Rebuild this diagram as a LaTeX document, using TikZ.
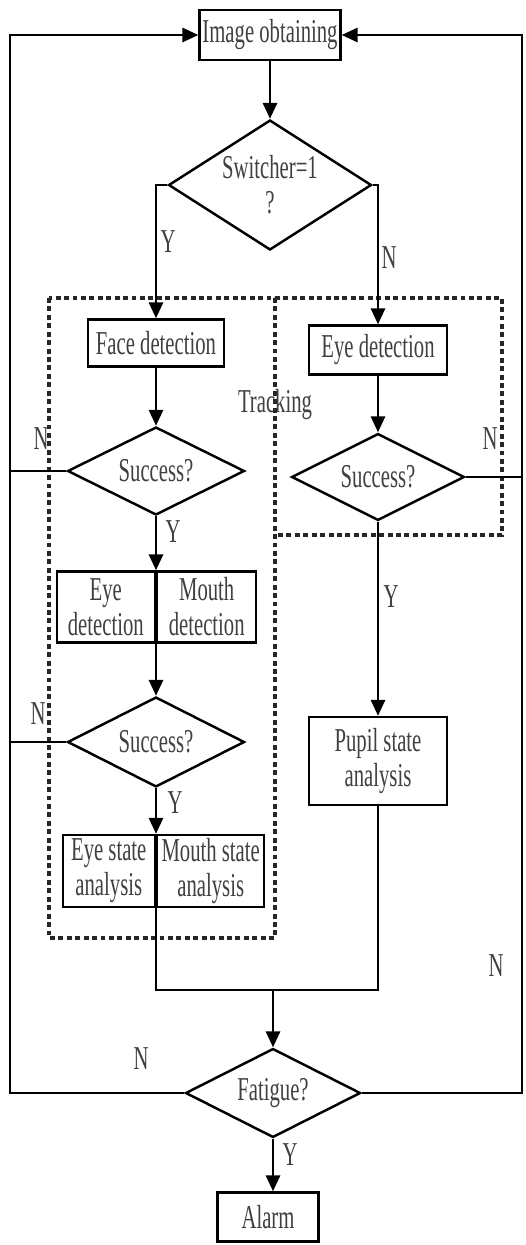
\documentclass[tikz,border=0pt]{standalone}
\usepackage{fontspec}
\newfontfamily\flowfont{Liberation Serif}[FakeStretch=0.62]
\usepackage{tikz}
\usetikzlibrary{positioning,shapes.geometric,arrows.meta}

\begin{document}
\begin{tikzpicture}[x=0.02cm, y=-0.02cm, line width=1.4pt,
                    blocknode/.style={rectangle, draw=black, line width=1.4pt, inner sep=0pt, align=center, text=black!75, font=\flowfont\fontsize{19}{20}\selectfont},
                    decisionnode/.style={diamond, draw=black, line width=1.4pt, inner sep=0pt, aspect=2, align=center, text=black!75, font=\flowfont\fontsize{19}{20}\selectfont},
                    labelnode/.style={inner sep=0pt, text=black!75, font=\flowfont\fontsize{19}{20}\selectfont},
                    flow/.style={-{Triangle[length=9pt,width=8pt]}},
                    trackline/.style={dashed, dash pattern=on 2.8pt off 2pt, line width=1.8pt, draw=black!85}]
                    \useasboundingbox (0,0) rectangle (525,1245);
                    \node[blocknode, minimum width=2.82cm, minimum height=1cm] (img) at (270,35) {Image obtaining};
                    \node[decisionnode, aspect=1.56, minimum width=4.06cm, minimum height=2.6cm] (sw) at (270,185) {Switcher=1\\?};
                    \node[blocknode, minimum width=2.72cm, minimum height=0.94cm] (face) at (156,343) {Face detection};
                    \node[blocknode, minimum width=2.76cm, minimum height=0.98cm] (eyed) at (378,350) {Eye detection};
                    \node[decisionnode, minimum width=3.54cm, minimum height=1.76cm] (succ1) at (156,471) {Success?};
                    \node[decisionnode, minimum width=3.46cm, minimum height=1.74cm] (succ2) at (378,477) {Success?};
                    \node[blocknode, minimum width=1.96cm, minimum height=1.42cm, anchor=east] (eyedet) at (156,607) {Eye\\detection};
                    \node[blocknode, minimum width=1.98cm, minimum height=1.42cm, anchor=west] (mouthdet) at (156,607) {Mouth\\detection};
                    \node[decisionnode, minimum width=3.54cm, minimum height=1.8cm] (succ3) at (156,742) {Success?};
                    \node[blocknode, minimum width=1.84cm, minimum height=1.44cm, anchor=east] (eyestate) at (156,871) {Eye state\\analysis};
                    \node[blocknode, minimum width=2.14cm, minimum height=1.44cm, anchor=west] (mouthstate) at (156,871) {Mouth state\\analysis};
                    \node[blocknode, minimum width=2.76cm, minimum height=1.76cm] (pupil) at (378,761) {Pupil state\\analysis};
                    \node[decisionnode, minimum width=3.5cm, minimum height=1.78cm] (fat) at (273,1093) {Fatigue?};
                    \node[blocknode, minimum width=2.02cm, minimum height=0.98cm] (alarm) at (268,1217) {Alarm};
                    \coordinate (ltop) at (10,35);
                    \coordinate (rtop) at (522,35);
                    \coordinate (merge) at (273,990);

                    \node[labelnode] (y-sw) at (168,242) {Y};
                    \node[labelnode] (n-sw) at (389,258) {N};
                    \node[labelnode] (track) at (275,405) {Tracking};
                    \node[labelnode] (n-s1) at (41,439) {N};
                    \node[labelnode] (n-s2) at (490,439) {N};
                    \node[labelnode] (y-s1) at (173,532) {Y};
                    \node[labelnode] (y-s2) at (391,597) {Y};
                    \node[labelnode] (n-s3) at (38,714) {N};
                    \node[labelnode] (y-s3) at (175,803) {Y};
                    \node[labelnode] (n-fr) at (496,966) {N};
                    \node[labelnode] (n-fl) at (141,1059) {N};
                    \node[labelnode] (y-fat) at (290,1155) {Y};

                    \draw[trackline] (49,298) rectangle (275,938);
                    \draw[trackline] (275,298) -- (502,298) -- (502,535) -- (275,535);
                    \draw[flow] (img) -- (sw);
                    \draw[flow] (sw.west) -| (face.north);
                    \draw[flow] (sw.east) -| (eyed.north);
                    \draw[flow] (face) -- (succ1);
                    \draw[flow] (eyed) -- (succ2);
                    \draw[flow] (succ1) -- (eyedet.north east);
                    \draw[flow] (eyedet.south east) -- (succ3);
                    \draw[flow] (succ3) -- (eyestate.north east);
                    \draw[flow] (succ2) -- (pupil);
                    \draw (succ1.west) -- (succ1.west -| ltop);
                    \draw (succ3.west) -- (succ3.west -| ltop);
                    \draw (succ2.east) -- (succ2.east -| rtop);
                    \draw (eyestate.south east) |- (merge);
                    \draw (pupil.south) |- (merge);
                    \draw[flow] (merge) -- (fat);
                    \draw[flow] (fat.west) -| (ltop) -- (img.west);
                    \draw[flow] (fat.east) -| (rtop) -- (img.east);
                    \draw[flow] (fat.south) -- (fat.south |- alarm.north);
                    \end{tikzpicture}
\end{document}
